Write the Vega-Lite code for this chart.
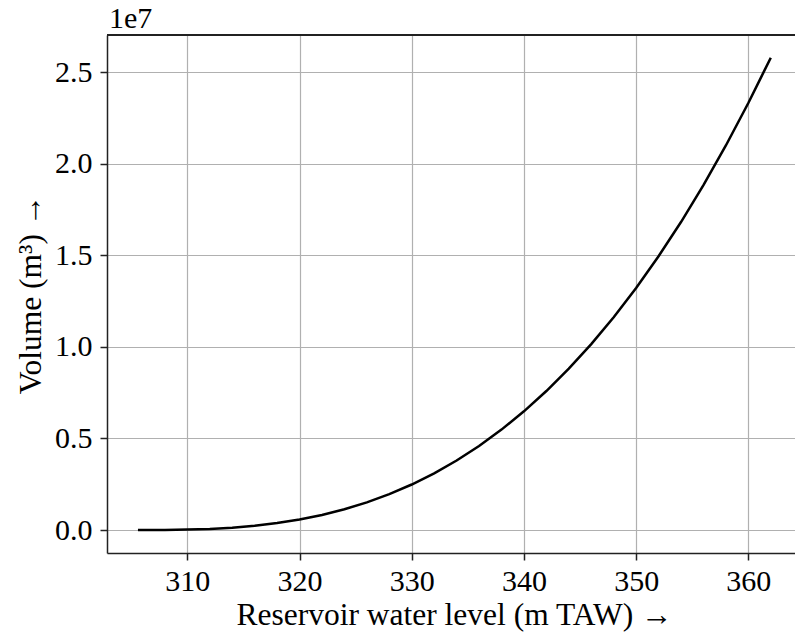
{
  "$schema": "https://vega.github.io/schema/vega-lite/v6.json",
  "width": 688,
  "height": 518,
  "autosize": "none",
  "padding": {"left": 107, "top": 35, "right": 0, "bottom": 81},
  "background": "white",
  "title": {"text": "1e7", "anchor": "start", "frame": "group", "fontSize": 30, "font": "Liberation Serif", "fontWeight": "normal", "color": "#000", "offset": 0, "dx": 2},
  "config": {
    "view": {"stroke": null},
    "font": "Liberation Serif",
    "axis": {
      "labelFont": "Liberation Serif", "titleFont": "Liberation Serif",
      "labelFontSize": 30, "titleFontSize": 31.5,
      "labelColor": "#000", "titleColor": "#000", "titleFontWeight": "normal",
      "gridColor": "#b0b0b0", "gridWidth": 1.2,
      "domainColor": "#222", "domainWidth": 1.5,
      "tickColor": "#222", "tickWidth": 1.5, "tickSize": 7
    }
  },
  "data": {"values": [
    {"level": 305.6, "volume": 0},
    {"level": 308, "volume": 4200},
    {"level": 310, "volume": 21600},
    {"level": 312, "volume": 60500},
    {"level": 314, "volume": 128400},
    {"level": 316, "volume": 231900},
    {"level": 318, "volume": 377900},
    {"level": 320, "volume": 572000},
    {"level": 322, "volume": 822000},
    {"level": 324, "volume": 1132000},
    {"level": 326, "volume": 1510000},
    {"level": 328, "volume": 1959000},
    {"level": 330, "volume": 2486000},
    {"level": 332, "volume": 3097000},
    {"level": 334, "volume": 3796000},
    {"level": 336, "volume": 4591000},
    {"level": 338, "volume": 5485000},
    {"level": 340, "volume": 6483000},
    {"level": 342, "volume": 7591000},
    {"level": 344, "volume": 8815000},
    {"level": 346, "volume": 10155000},
    {"level": 348, "volume": 11625000},
    {"level": 350, "volume": 13223000},
    {"level": 352, "volume": 14954000},
    {"level": 354, "volume": 16823000},
    {"level": 356, "volume": 18840000},
    {"level": 358, "volume": 21005000},
    {"level": 360, "volume": 23323000},
    {"level": 362, "volume": 25800000}
  ]},
  "layer": [
    {
      "mark": {"type": "line", "color": "black", "strokeWidth": 2.5},
      "encoding": {
        "x": {
          "field": "level", "type": "quantitative",
          "scale": {"domain": [302.84, 364.16], "nice": false, "zero": false},
          "axis": {"values": [310, 320, 330, 340, 350, 360], "title": "Reservoir water level (m TAW)  →", "labelPadding": 6, "titlePadding": 3, "titleX": 347, "labelFlush": false}
        },
        "y": {
          "field": "volume", "type": "quantitative",
          "scale": {"domain": [-1256000, 27040000], "nice": false, "zero": false},
          "axis": {"values": [0, 5000000, 10000000, 15000000, 20000000, 25000000], "labelExpr": "format(datum.value/1e7, '.1f')", "title": "Volume (m³)  →", "labelPadding": 8, "titlePadding": 7, "labelFlush": false}
        }
      }
    },
    {
      "mark": {"type": "rule", "color": "#222", "strokeWidth": 1.5},
      "encoding": {"y": {"datum": 27040000}}
    }
  ]
}
